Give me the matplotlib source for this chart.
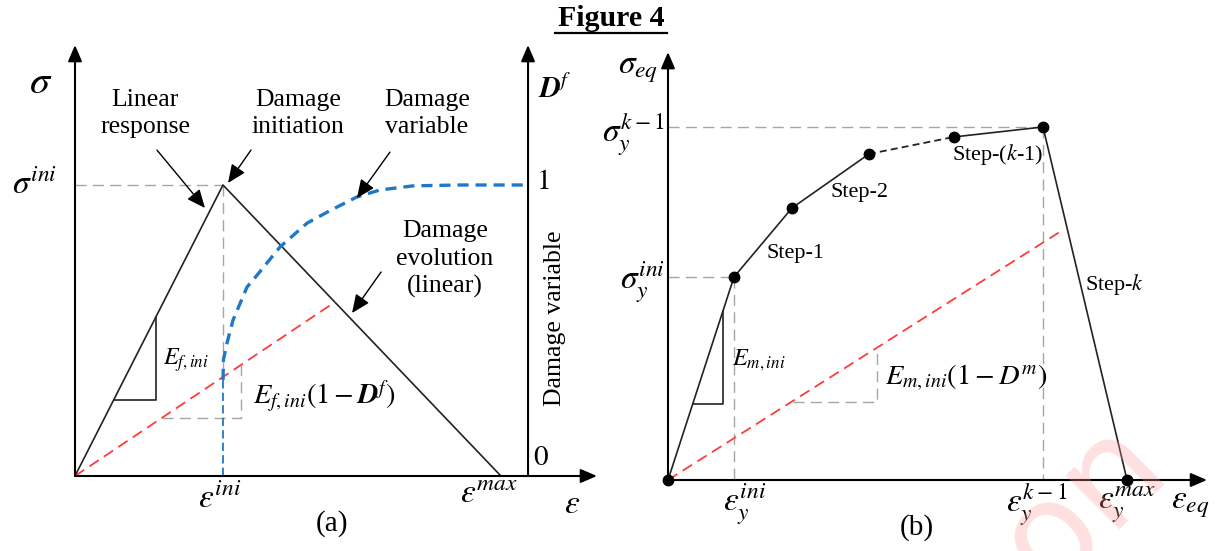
import matplotlib
matplotlib.use("Agg")
import matplotlib.pyplot as plt
from matplotlib.lines import Line2D

plt.rcParams['font.family'] = ['Liberation Serif', 'DejaVu Serif']
plt.rcParams['mathtext.fontset'] = 'stix'
plt.rcParams['lines.scale_dashes'] = False

W, H = 1222, 551

# ---------------- (a) fibre: linear softening ----------------
# strain scaled by eps_ini, stress by sig_ini
eps_a = [0.0, 1.0, 2.878]
sig_a = [0.0, 1.0, 0.0]
red_eps_a = [0.0, 1.757]          # degraded stiffness E_f,ini (1 - D^f)
red_sig_a = [0.0, 0.598]
dmg_eps = [1.0, 1.003, 1.027, 1.068, 1.162, 1.230, 1.385, 1.568, 1.723,
           1.905, 2.061, 2.284, 2.60, 3.061]
dmg_val = [0.33, 0.40, 0.457, 0.536, 0.649, 0.690, 0.787, 0.869, 0.912,
           0.959, 0.983, 0.997, 1.0, 1.0]
eps_a_end, sig_a_end, d_axis = 3.527, 1.481, 3.061
tri_a_eps = [0.264, 0.547, 0.547]      # E_f,ini slope triangle
tri_a_sig = [0.261, 0.261, 0.547]
tri_a2_eps = [0.588, 1.122, 1.122]     # degraded slope triangle
tri_a2_sig = [0.200, 0.200, 0.382]

# ---------------- (b) matrix: multi-step hardening ----------------
eps_b = [0.0, 1.0, 1.879, 3.045, 4.333, 5.682, 6.955]
sig_b = [0.0, 1.0, 1.340, 1.606, 1.690, 1.739, 0.0]
red_eps_b = [0.0, 5.985]
red_sig_b = [0.0, 1.232]
eps_b_end, sig_b_end = 8.167, 2.108
tri_b_eps = [0.379, 0.833, 0.833]
tri_b_sig = [0.374, 0.374, 0.833]
tri_b2_eps = [1.894, 3.167, 3.167]
tri_b2_sig = [0.384, 0.384, 0.652]
step_labels = ['Step-1', 'Step-2', 'Step-($k$-1)', 'Step-$k$']

GRAY = '#A6A6A6'
RED = '#FF3B3B'
BLUE = '#1F78C8'
TXT = 18.5
STEP = 16
MATH = 24


def panel(fig, ox, oy, sx, sy, xlim, ylim):
    left = (ox + xlim[0] * sx) / W
    right = (ox + xlim[1] * sx) / W
    bottom = (H - (oy - ylim[0] * sy)) / H
    top = (H - (oy - ylim[1] * sy)) / H
    ax = fig.add_axes([left, bottom, right - left, top - bottom])
    ax.set_xlim(xlim)
    ax.set_ylim(ylim)
    ax.axis('off')
    return ax


def axis_arrow(ax, x0, y0, x1, y1):
    ax.annotate('', xy=(x1, y1), xytext=(x0, y0),
                arrowprops=dict(arrowstyle='-|>,head_length=0.7,head_width=0.3',
                                lw=1.5, color='k', shrinkA=0, shrinkB=0,
                                mutation_scale=14))


def pointer(ax, x0, y0, x1, y1):
    ax.annotate('', xy=(x1, y1), xytext=(x0, y0),
                arrowprops=dict(arrowstyle='-|>,head_length=0.8,head_width=0.35',
                                lw=1.0, color='k', shrinkA=0, shrinkB=0,
                                mutation_scale=14))


def gray(ax, x, y):
    ax.plot(x, y, color=GRAY, lw=1.0, dashes=(8, 4.5))


fig = plt.figure(figsize=(W / 100, H / 100), dpi=100)
fig.patch.set_facecolor('white')

# title
fig.text(611 / W, 1 - 18 / H, 'Figure 4', ha='center', va='center',
         fontsize=21.5, fontweight='bold')
fig.add_artist(Line2D([555 / W, 667 / W], [1 - 33 / H, 1 - 33 / H],
                      color='k', lw=1.6, transform=fig.transFigure))

# ---------- panel (a) ----------
axa = panel(fig, 75, 476, 148, 291, (-0.48, 3.75), (-0.22, 1.62))
axis_arrow(axa, 0, 0, 0, sig_a_end)
axis_arrow(axa, 0, 0, eps_a_end, 0)
axis_arrow(axa, d_axis, 0, d_axis, sig_a_end)

gray(axa, [0, eps_a[1]], [sig_a[1], sig_a[1]])
gray(axa, [eps_a[1], eps_a[1]], [sig_a[1], dmg_val[0]])
gray(axa, tri_a2_eps, tri_a2_sig)

axa.plot(eps_a, sig_a, color='#222222', lw=1.2)
axa.plot(tri_a_eps, tri_a_sig, color='#222222', lw=1.2)

axa.plot(red_eps_a, red_sig_a, color=RED, lw=1.3, dashes=(8, 4.5))
axa.plot([dmg_eps[0], dmg_eps[0]], [0, dmg_val[0]], color=BLUE, lw=1.3, dashes=(6, 3))
axa.plot(dmg_eps, dmg_val, color=BLUE, lw=2.4, dashes=(8, 5))

pointer(axa, 0.554, 1.120, 0.878, 0.921)
pointer(axa, 1.189, 1.120, 1.034, 1.007)
pointer(axa, 2.128, 1.113, 1.905, 0.955)
pointer(axa, 2.068, 0.701, 1.872, 0.560)

axa.text(0.473, 1.247, 'Linear\nresponse', ha='center', va='center',
         fontsize=TXT, linespacing=1.3)
axa.text(1.507, 1.247, 'Damage\ninitiation', ha='center', va='center',
         fontsize=TXT, linespacing=1.3)
axa.text(2.378, 1.247, 'Damage\nvariable', ha='center', va='center',
         fontsize=TXT, linespacing=1.3)
axa.text(2.50, 0.745, 'Damage\nevolution\n(linear)', ha='center', va='center',
         fontsize=TXT, linespacing=1.3)
axa.text(3.243, 0.543, 'Damage variable', ha='center', va='center',
         fontsize=TXT, rotation=90)

axa.text(-0.23, 1.35, r'$\sigma$', ha='center', va='center', fontsize=29)
axa.text(-0.12, 1.0, r'$\sigma^{ini}$', ha='right', va='center', fontsize=MATH)
axa.text(3.128, 1.326, r'$\mathbfit{D}^{f}$', ha='left', va='center', fontsize=21)
axa.text(3.12, 1.01, '1', ha='left', va='center', fontsize=21, family='STIXGeneral')
axa.text(3.095, 0.062, '0', ha='left', va='center', fontsize=21, family='STIXGeneral')
axa.text(0.98, -0.08, r'$\varepsilon^{ini}$', ha='center', va='center', fontsize=MATH)
axa.text(2.80, -0.065, r'$\varepsilon^{max}$', ha='center', va='center', fontsize=MATH)
axa.text(3.36, -0.10, r'$\varepsilon$', ha='center', va='center', fontsize=MATH)
axa.text(1.736, -0.165, '(a)', ha='center', va='center', fontsize=21)
axa.text(0.595, 0.399, r'$E_{f,ini}$', ha='left', va='center', fontsize=17.5)
axa.text(1.203, 0.271, r'$E_{f,ini}(1-\mathbfit{D}^{f})$', ha='left', va='center',
         fontsize=20.5)

# ---------- panel (b) ----------
axb = panel(fig, 668, 480, 66, 203, (-1.0, 8.2), (-0.3, 2.3))
axis_arrow(axb, 0, 0, 0, sig_b_end)
axis_arrow(axb, 0, 0, eps_b_end, 0)

gray(axb, [0, eps_b[5]], [sig_b[5], sig_b[5]])
gray(axb, [eps_b[5], eps_b[5]], [sig_b[5], 0])
gray(axb, [0, eps_b[1]], [sig_b[1], sig_b[1]])
gray(axb, [eps_b[1], eps_b[1]], [sig_b[1], 0])
gray(axb, tri_b2_eps, tri_b2_sig)

axb.plot(red_eps_b, red_sig_b, color=RED, lw=1.3, dashes=(8, 4.5))

axb.plot(eps_b[:4], sig_b[:4], color='#222222', lw=1.2)
axb.plot(eps_b[3:5], sig_b[3:5], color='#222222', lw=1.3, dashes=(5, 3))
axb.plot(eps_b[4:], sig_b[4:], color='#222222', lw=1.2)
axb.plot(eps_b, sig_b, ls='none', marker='o', ms=7.5, color='k', clip_on=False)
axb.plot(tri_b_eps, tri_b_sig, color='#222222', lw=1.2)

axb.text(1.50, 1.118, step_labels[0], ha='left', va='center', fontsize=STEP)
axb.text(2.455, 1.414, step_labels[1], ha='left', va='center', fontsize=STEP)
axb.text(4.303, 1.601, step_labels[2], ha='left', va='center', fontsize=STEP)
axb.text(6.318, 0.961, step_labels[3], ha='left', va='center', fontsize=STEP)

axb.text(-0.15, 2.02, r'$\sigma_{eq}$', ha='right', va='center', fontsize=MATH)
axb.text(-0.045, 1.70, r'$\sigma_y^{k-1}$', ha='right', va='center', fontsize=MATH)
axb.text(-0.045, 0.975, r'$\sigma_y^{ini}$', ha='right', va='center', fontsize=MATH)
axb.text(1.167, -0.12, r'$\varepsilon_y^{ini}$', ha='center', va='center', fontsize=MATH)
axb.text(5.59, -0.12, r'$\varepsilon_y^{k-1}$', ha='center', va='center', fontsize=MATH)
axb.text(6.955, -0.12, r'$\varepsilon_y^{max}$', ha='center', va='center', fontsize=MATH)
axb.text(7.91, -0.123, r'$\varepsilon_{eq}$', ha='center', va='center', fontsize=MATH)
axb.text(3.773, -0.232, '(b)', ha='center', va='center', fontsize=21)
axb.text(0.97, 0.591, r'$E_{m,ini}$', ha='left', va='center', fontsize=17.5)
axb.text(3.288, 0.502, r'$E_{m,ini}(1-D^{m})$', ha='left', va='center', fontsize=20.5)

# faint watermark in the lower right corner
fig.text(1065 / W, 1 - 515 / H, '.on', ha='center', va='center', rotation=45,
         fontsize=100, family='DejaVu Sans', color='#FF9A9A', alpha=0.3)

fig.savefig('out.png', dpi=100)
